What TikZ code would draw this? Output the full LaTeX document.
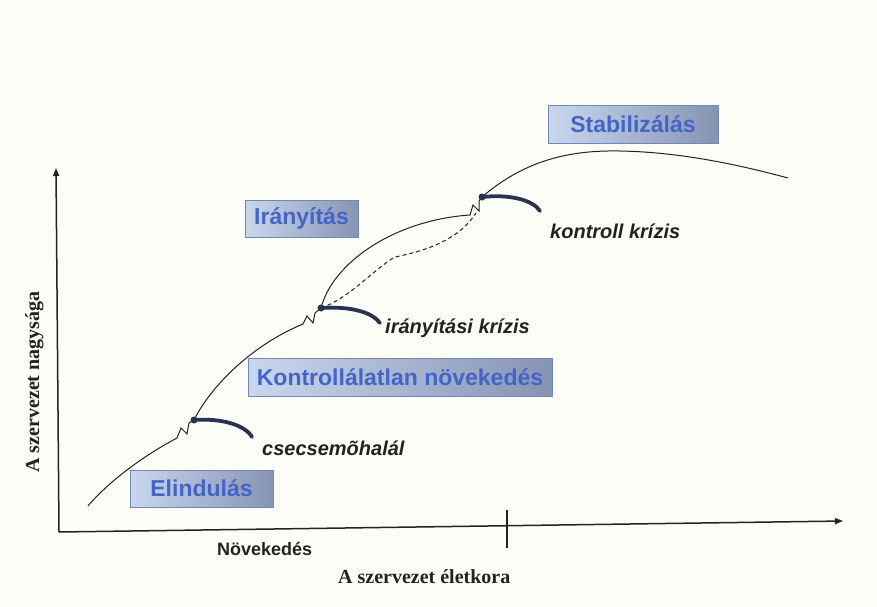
\documentclass[tikz,border=0pt]{standalone}
\usepackage{fontspec}
\setmainfont{Liberation Serif}
\setsansfont{Liberation Sans}
\usetikzlibrary{arrows.meta}
\definecolor{bgc}{HTML}{FDFDF8}
\definecolor{boxL}{HTML}{C9D7EE}
\definecolor{boxR}{HTML}{8594B2}
\definecolor{boxedge}{HTML}{7388B4}
\definecolor{boxtext}{HTML}{4464C8}
\definecolor{crisis}{HTML}{2B3150}
\definecolor{ink}{HTML}{222222}
\tikzset{
  phase/.style={draw=boxedge, line width=0.9pt, left color=boxL, right color=boxR,
    text=boxtext, font=\sffamily\bfseries\fontsize{23pt}{26pt}\selectfont,
    inner sep=0pt, minimum height=37pt},
  crisislabel/.style={anchor=base west, inner sep=0pt, text=ink,
    font=\sffamily\bfseries\itshape\fontsize{20pt}{24pt}\selectfont},
  axislabel/.style={inner sep=0pt, text=ink,
    font=\rmfamily\bfseries\fontsize{20pt}{24pt}\selectfont},
  axisline/.style={line width=1.5pt, draw=ink},
  curveline/.style={line width=1pt, draw=ink, line join=miter},
  crisisarc/.style={line width=3.8pt, draw=crisis, line cap=round},
  crisisdot/.style={fill=crisis, circle, inner sep=0pt, minimum size=7pt},
  dashline/.style={line width=1pt, draw=ink, dash pattern=on 4pt off 3pt}
}
\begin{document}
\begin{tikzpicture}[x=1pt,y=-1pt]
\fill[bgc] (0,0) rectangle (877,606);
\useasboundingbox (0,0) rectangle (877,606);

% axes
\coordinate (origin) at (59,532);
\coordinate (ytip) at (56,168);
\coordinate (xtip) at (843,521);
\coordinate (tickT) at (507,510);
\coordinate (tickB) at (507,548);
\draw[axisline, -{Triangle[length=8pt,width=6pt]}] (origin) -- (ytip);
\draw[axisline, -{Triangle[length=8pt,width=6pt]}] (origin) -- (xtip);
\draw[line width=1.2pt, draw=ink] (tickT) -- (tickB);

% axis labels
\node[axislabel, rotate=90] (ylab) at (34.5,382) {A szervezet nagysága};
\node[axislabel, anchor=base west] (xlab) at (338,583) {A szervezet életkora};
\node[anchor=base west, inner sep=0pt, text=ink,
  font=\sffamily\bfseries\fontsize{18pt}{22pt}\selectfont] (nov) at (217,555) {Növekedés};

% phase boxes
\node[phase, minimum width=143pt] (elind) at (201.5,488.5) {Elindulás};
\node[phase, minimum width=304pt, minimum height=38pt] (kontr) at (400,377) {Kontrollálatlan növekedés};
\node[phase, minimum width=113pt] (irany) at (301.5,218.5) {Irányítás};
\node[phase, minimum width=170pt, minimum height=38pt] (stab) at (633,124) {Stabilizálás};

% crisis points
\coordinate (c1) at (194,420);
\coordinate (c2) at (321,308);
\coordinate (c3) at (482,197);
\coordinate (c1end) at (252,437);
\coordinate (c2end) at (380,323);
\coordinate (c3end) at (540,211);

% growth curve
\draw[curveline] (88,506) .. controls (110,480) and (145,455) .. (177,438)
  -- (181,428) -- (187,434) -- (189,423) -- (c1)
  .. controls (211,386) and (252,345) .. (303,324)
  -- (307,316) -- (313,323) -- (315,313) -- (c2)
  .. controls (333,262) and (395,220) .. (470,215)
  -- (473,205) -- (479,211) -- (479,201) -- (c3)
  .. controls (525,160) and (570,150) .. (620,151)
  .. controls (680,152) and (740,165) .. (788,178);

% dashed alternative path
\draw[dashline] (c2) .. controls (350,298) and (375,268) .. (395,257)
  .. controls (430,250) and (460,238) .. (476,213);

% crisis arcs
\draw[crisisarc] (c1) .. controls (222,418) and (245,425) .. (c1end);
\draw[crisisarc] (c2) .. controls (350,306) and (372,312) .. (c2end);
\draw[crisisarc] (c3) .. controls (510,194) and (533,200) .. (c3end);
\node[crisisdot] (d1) at (c1) {};
\node[crisisdot] (d2) at (c2) {};
\node[crisisdot] (d3) at (c3) {};

% crisis labels
\node[crisislabel] (l1) at (262,455) {csecsemõhalál};
\node[crisislabel] (l2) at (385,333) {irányítási krízis};
\node[crisislabel] (l3) at (550,238) {kontroll krízis};
\end{tikzpicture}
\end{document}
